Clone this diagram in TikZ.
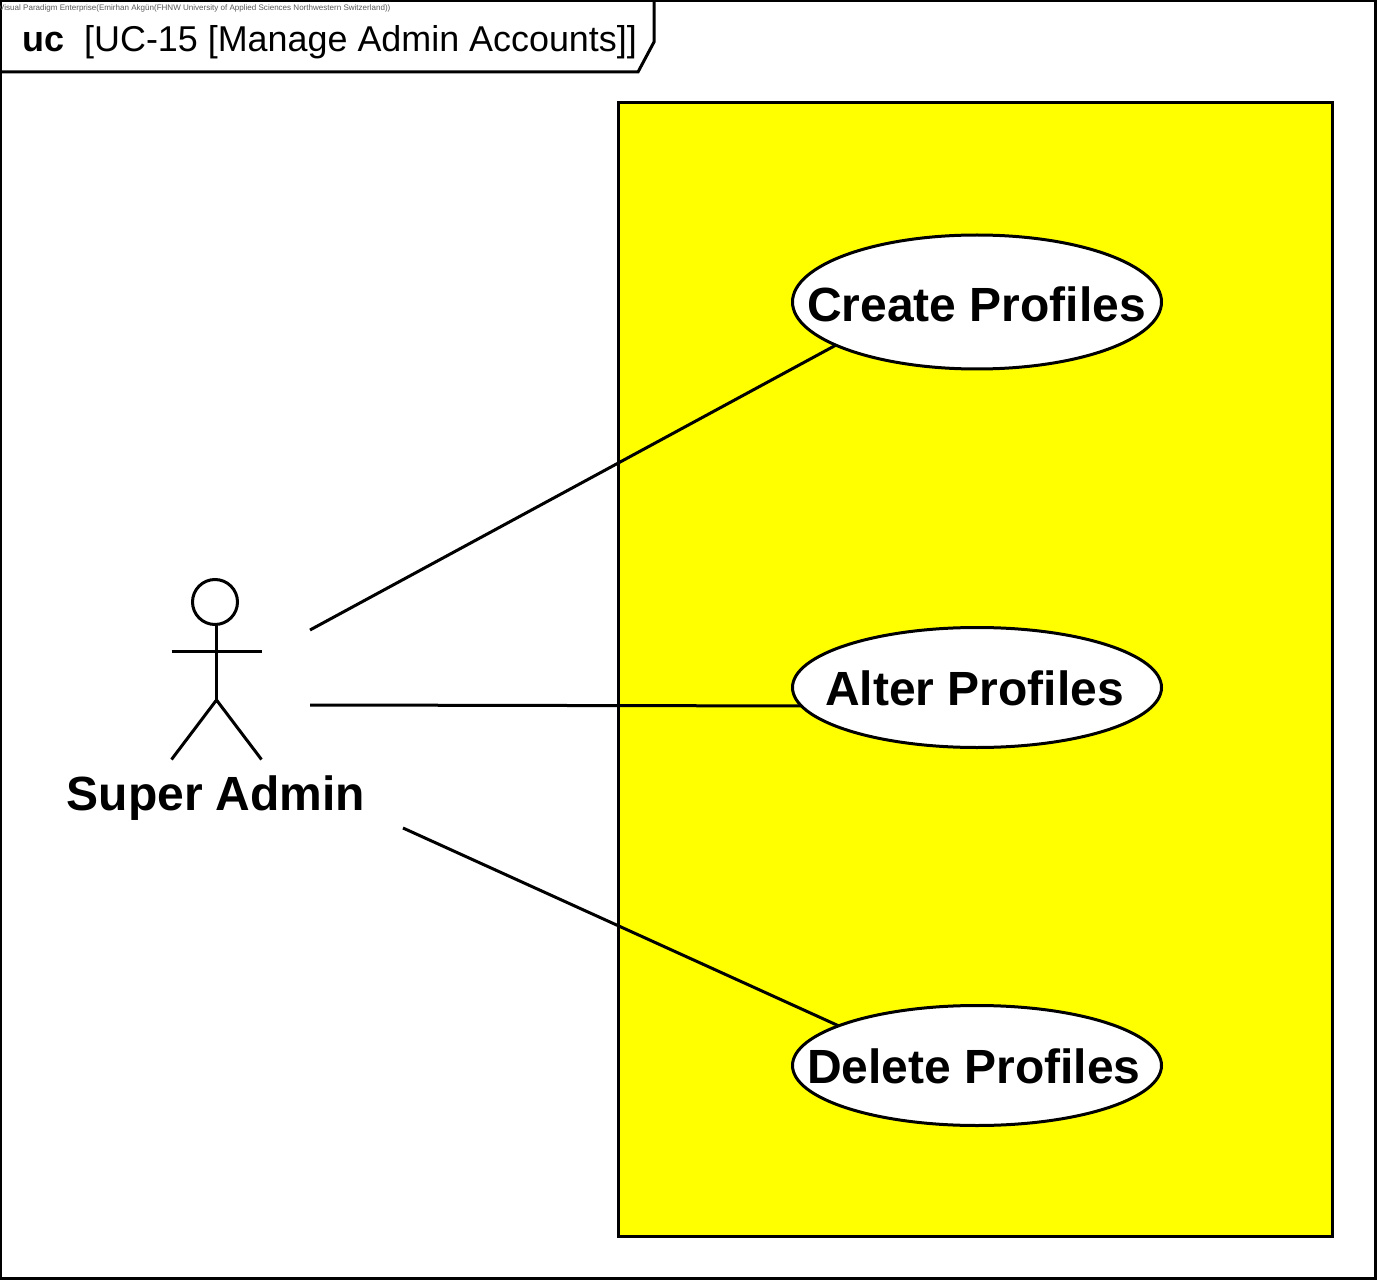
\documentclass[tikz,border=0pt]{standalone}
\usepackage{fontspec}
\setmainfont{Liberation Sans}
\usetikzlibrary{shapes.geometric}
\definecolor{sysyellow}{RGB}{255,255,0}
\tikzset{
  ln/.style={line width=3pt,black},
  usecase/.style={ellipse,draw=black,line width=3pt,fill=white,inner sep=0pt,outer sep=0pt,minimum width=369pt},
  actorlabel/.style={inner sep=0pt,font=\fontsize{48}{48}\selectfont\bfseries},
}
\begin{document}
\begin{tikzpicture}[x=1pt,y=-1pt]
\useasboundingbox (0,0) rectangle (1377,1281);
\fill[white] (0,0) rectangle (1377,1281);
% frame
\draw[ln] (0.5,0.5) rectangle (1375,1278);
\draw[ln,line join=miter] (0.5,72) -- (638,72) -- (654,42) -- (654,0.5);
\node[anchor=base west,inner sep=0pt,font=\bfseries\fontsize{36}{36}\selectfont] (uc) at (22,52) {uc};
\node[anchor=base west,inner sep=0pt,font=\fontsize{35.9}{36}\selectfont] (title) at (84,52) {[UC-15 [Manage Admin Accounts]]};
\node[anchor=base west,inner sep=0pt,text=black!65,font=\fontsize{8.04}{8}\selectfont] (wm) at (-1,10.5) {Visual Paradigm Enterprise(Emirhan Akgün(FHNW University of Applied Sciences Northwestern Switzerland))};
% system boundary
\draw[ln,fill=sysyellow] (618.5,102.5) rectangle (1332.5,1236);
% use cases
\node[usecase,minimum height=134pt] (create) at (977,302) {};
\node[usecase,minimum height=120pt] (alter) at (977,687.5) {};
\node[usecase,minimum height=120pt] (delete) at (977,1065.5) {};
\node[actorlabel] (createlabel) at (976.5,304) {Create Profiles};
\node[actorlabel] (alterlabel) at (974.5,688) {Alter Profiles};
\node[actorlabel] (deletelabel) at (974,1066) {Delete Profiles};
% actor
\node[circle,draw=black,line width=3pt,inner sep=0pt,outer sep=0pt,minimum size=45pt] (head) at (215,602) {};
\coordinate (hip) at (216.5,700);
\coordinate (neck) at (216.5,624.5);
\draw[ln] (neck) -- (hip);
\coordinate (armL) at (171.5,651);
\coordinate (armR) at (261.5,651);
\draw[ln] (armL) -- (armR);
\coordinate (legL) at (171.5,759.5);
\coordinate (legR) at (261.5,759.5);
\draw[ln] (legL) -- (hip) -- (legR);
\node[actorlabel] (admin) at (216,798) {Super Admin};
% connectors
\coordinate (c1) at (310,630);
\coordinate (c2) at (310,705);
\coordinate (c3) at (403,828);
\draw[ln] (c1) -- (create.197.5);
\draw[ln] (c2) -- (alter.186.3);
\draw[ln] (c3) -- (delete.164.6);
\end{tikzpicture}
\end{document}
